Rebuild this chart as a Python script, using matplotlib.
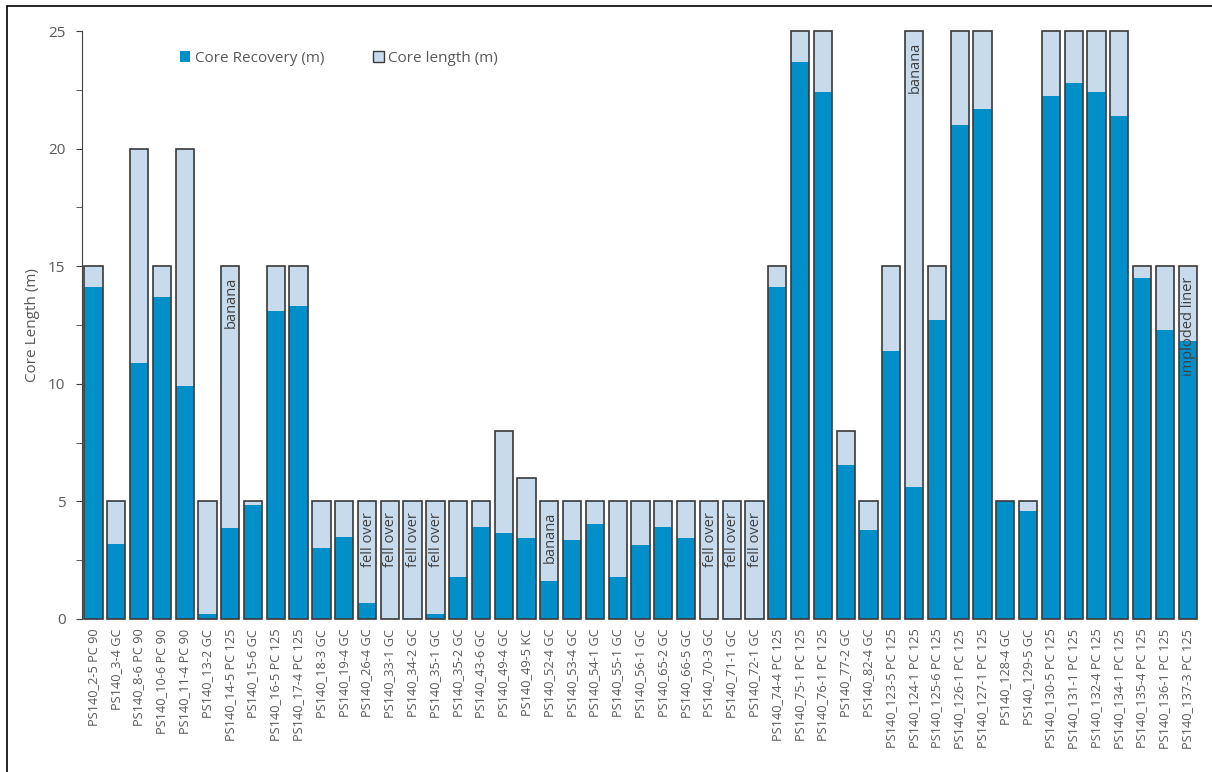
import matplotlib.pyplot as plt
from matplotlib.patches import Rectangle

# Core sites (PS140)
sites = ['2-5 PC 90', '3-4 GC', '8-6 PC 90', '10-6 PC 90', '11-4 PC 90', '13-2 GC',
         '14-5 PC 125', '15-6 GC', '16-5 PC 125', '17-4 PC 125', '18-3 GC', '19-4 GC',
         '26-4 GC', '33-1 GC', '34-2 GC', '35-1 GC', '35-2 GC', '43-6 GC', '49-4 GC',
         '49-5 KC', '52-4 GC', '53-4 GC', '54-1 GC', '55-1 GC', '56-1 GC', '65-2 GC',
         '66-5 GC', '70-3 GC', '71-1 GC', '72-1 GC', '74-4 PC 125', '75-1 PC 125',
         '76-1 PC 125', '77-2 GC', '82-4 GC', '123-5 PC 125', '124-1 PC 125',
         '125-6 PC 125', '126-1 PC 125', '127-1 PC 125', '128-4 GC', '129-5 GC',
         '130-5 PC 125', '131-1 PC 125', '132-4 PC 125', '134-1 PC 125', '135-4 PC 125',
         '136-1 PC 125', '137-3 PC 125']
labels = ['PS140_' + s for s in sites]

core_length = [15, 5, 20, 15, 20, 5, 15, 5, 15, 15, 5, 5, 5, 5, 5, 5, 5, 5, 8, 6,
               5, 5, 5, 5, 5, 5, 5, 5, 5, 5, 15, 25, 25, 8, 5, 15, 25, 15, 25, 25,
               5, 5, 25, 25, 25, 25, 15, 15, 15]
core_recovery = [14.1, 3.2, 10.9, 13.7, 9.9, 0.2, 3.85, 4.85, 13.1, 13.3, 3.0, 3.5,
                 0.7, 0.0, 0.0, 0.2, 1.8, 3.9, 3.65, 3.45, 1.6, 3.35, 4.05, 1.8, 3.15,
                 3.9, 3.45, 0.0, 0.0, 0.0, 14.1, 23.7, 22.4, 6.55, 3.8, 11.4, 5.6,
                 12.7, 21.0, 21.7, 5.0, 4.6, 22.25, 22.8, 22.4, 21.4, 14.5, 12.3, 11.8]

# notes written inside some bars
notes = {6: 'banana', 12: 'fell over', 13: 'fell over', 14: 'fell over', 15: 'fell over',
         20: 'banana', 27: 'fell over', 28: 'fell over', 29: 'fell over',
         36: 'banana', 48: 'imploded liner'}

plt.rcParams['font.family'] = ['Open Sans', 'DejaVu Sans']

fig = plt.figure(figsize=(12.12, 7.72), dpi=100)
ax = fig.add_axes([0.0677, 0.1982, 0.9216, 0.7616])

x = range(len(labels))
light = '#c8dbec'
blue = '#008fc8'
edge = '#3a3a3a'

ax.bar(x, core_length, width=0.8, color=light, edgecolor='none', label='Core length (m)')
ax.bar(x, core_recovery, width=0.8, color=blue, edgecolor='none', label='Core Recovery (m)')
outlines = ax.bar(x, core_length, width=0.8, color='none', edgecolor=edge, linewidth=1.2)
for p in outlines:
    p.set_clip_on(False)

for i, txt in notes.items():
    ax.text(i + 0.05, core_length[i] - 0.45, txt, rotation=90, ha='center', va='top',
            fontsize=10.5, color='#404040')

ax.set_xlim(-0.5, len(labels) - 0.5)
ax.set_ylim(0, 25)
ax.set_yticks([0, 5, 10, 15, 20, 25])
ax.set_yticks([2.5, 7.5, 12.5, 17.5, 22.5], minor=True)
ax.set_xticks(list(x))
ax.set_xticklabels(labels, rotation=90, fontsize=9.2, color='#595959')
ax.tick_params(axis='x', length=0, pad=7)
ax.tick_params(axis='y', which='both', direction='out', length=4, color='#404040',
               labelsize=11, labelcolor='#595959', pad=8)
ax.set_ylabel('Core Length (m)', fontsize=11, color='#595959', labelpad=6)

for s in ['top', 'right', 'bottom']:
    ax.spines[s].set_visible(False)
ax.spines['left'].set_color('#404040')

handles, lbls = ax.get_legend_handles_labels()
leg = ax.legend(handles[::-1], lbls[::-1], loc='upper left', bbox_to_anchor=(0.075, 0.99),
                ncol=2, frameon=False, fontsize=11, handlelength=0.7, handleheight=0.7,
                handletextpad=0.3, columnspacing=3.2)
for t in leg.get_texts():
    t.set_color('#595959')
leg.legend_handles[1].set_edgecolor(edge)

# border around the whole picture
fig.patches.append(Rectangle((7 / 1212, -0.01), 1.0, 1 - 6 / 772 + 0.01,
                             transform=fig.transFigure, fill=False,
                             edgecolor='black', linewidth=1.2))

fig.savefig('out.png', dpi=100)
